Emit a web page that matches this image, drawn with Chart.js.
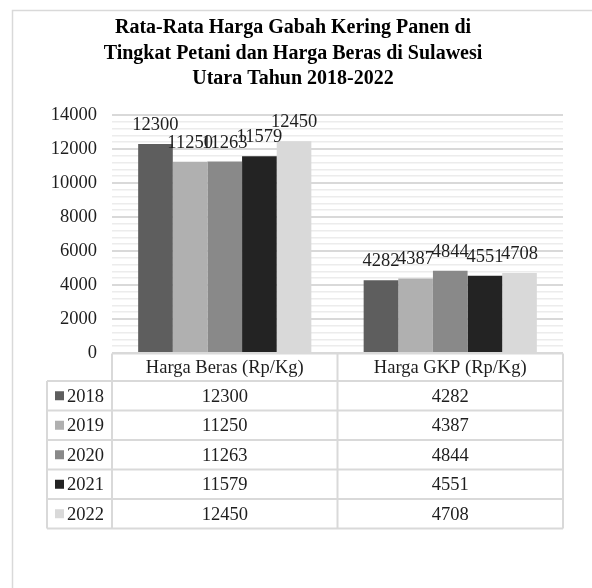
<!DOCTYPE html>
<html>
<head>
<meta charset="utf-8">
<script src="https://cdn.jsdelivr.net/npm/chart.js@4/dist/chart.umd.min.js"></script>
<style>
  html, body { margin: 0; padding: 0; background: #fff; overflow: hidden; }
  #wrap { width: 592px; height: 588px; }
</style>
</head>
<body>
<div id="wrap"><canvas id="c" width="592" height="588"></canvas></div>
<script>
// Categories, series and axis labels
const categories = ['Harga Beras (Rp/Kg)', 'Harga GKP (Rp/Kg)'];
const years = ['2018', '2019', '2020', '2021', '2022'];
const hargaBeras = [12300, 11250, 11263, 11579, 12450];
const hargaGKP = [4282, 4387, 4844, 4551, 4708];
const yTickLabels = [0, 2000, 4000, 6000, 8000, 10000, 12000, 14000];
const titleLines = ['Rata-Rata Harga Gabah Kering Panen di', 'Tingkat Petani dan Harga Beras di Sulawesi', 'Utara Tahun 2018-2022'];
const minorStep = 400;

const seriesColors = ['#5e5e5e', '#b0b0b0', '#898989', '#232323', '#d9d9d9'];
const serif = "'Liberation Serif', 'Times New Roman', serif";
const textColor = '#1e1e1e';
const lineColor = '#d9d9d9';
const bodySize = 18.5;

const datasets = years.map((y, i) => ({
  label: y,
  data: [hargaBeras[i], hargaGKP[i]],
  backgroundColor: seriesColors[i],
  borderWidth: 0,
  barPercentage: 1.0,
  categoryPercentage: 0.768
}));

// White background, outer frame and the centred title block
const framePlugin = {
  id: 'frame',
  beforeDraw(chart) {
    const ctx = chart.ctx;
    ctx.save();
    ctx.fillStyle = '#ffffff';
    ctx.fillRect(0, 0, chart.width, chart.height);
    ctx.strokeStyle = lineColor;
    ctx.lineWidth = 1.5;
    ctx.beginPath();
    ctx.moveTo(12.5, chart.height);
    ctx.lineTo(12.5, 10.5);
    ctx.lineTo(chart.width, 10.5);
    ctx.stroke();

    ctx.fillStyle = '#000000';
    ctx.font = 'bold 20px ' + serif;
    ctx.textAlign = 'center';
    ctx.textBaseline = 'middle';
    titleLines.forEach((t, i) => ctx.fillText(t, 293, 28 + i * 25.5));
    ctx.restore();
  }
};

// Value labels above each bar
const valueLabels = {
  id: 'valueLabels',
  afterDatasetsDraw(chart) {
    const ctx = chart.ctx;
    ctx.save();
    ctx.font = bodySize + 'px ' + serif;
    ctx.fillStyle = textColor;
    ctx.textAlign = 'center';
    ctx.textBaseline = 'alphabetic';
    chart.data.datasets.forEach((ds, di) => {
      chart.getDatasetMeta(di).data.forEach((bar, idx) => {
        ctx.fillText(String(ds.data[idx]), bar.x, bar.y - 14);
      });
    });
    ctx.restore();
  }
};

// Data table under the plot, aligned to the category scale
const dataTable = {
  id: 'dataTable',
  afterDraw(chart) {
    const ctx = chart.ctx;
    const xs = chart.scales.x;
    const area = chart.chartArea;
    const headerH = 27.5;
    const rowH = 29.5;
    const legendLeft = 47;
    const top = area.bottom + 0.5;
    const headerBottom = top + headerH;
    const n = categories.length;
    const half = (xs.getPixelForValue(1) - xs.getPixelForValue(0)) / 2;
    const colEdges = [];
    for (let i = 0; i < n; i++) colEdges.push(xs.getPixelForValue(i) - half);
    colEdges.push(xs.getPixelForValue(n - 1) + half);
    const bottom = headerBottom + rowH * years.length;

    ctx.save();
    ctx.strokeStyle = lineColor;
    ctx.lineWidth = 2;
    ctx.beginPath();
    ctx.moveTo(colEdges[0], top); ctx.lineTo(colEdges[n], top);
    for (let r = 0; r <= years.length; r++) {
      const y = headerBottom + r * rowH;
      ctx.moveTo(legendLeft, y); ctx.lineTo(colEdges[n], y);
    }
    ctx.moveTo(legendLeft, headerBottom); ctx.lineTo(legendLeft, bottom);
    colEdges.forEach(x => { ctx.moveTo(x, top); ctx.lineTo(x, bottom); });
    ctx.stroke();

    ctx.font = bodySize + 'px ' + serif;
    ctx.textBaseline = 'middle';
    years.forEach((y, r) => {
      const cy = headerBottom + r * rowH + rowH / 2;
      ctx.fillStyle = seriesColors[r];
      ctx.fillRect(55, cy - 4.5, 9, 9);
      ctx.fillStyle = textColor;
      ctx.textAlign = 'left';
      ctx.fillText(y, 67, cy + 1);
      ctx.textAlign = 'center';
      chart.data.datasets[r].data.forEach((v, c) => {
        ctx.fillText(String(v), xs.getPixelForValue(c), cy + 1);
      });
    });
    ctx.restore();
  }
};

new Chart(document.getElementById('c'), {
  type: 'bar',
  data: { labels: categories, datasets },
  plugins: [framePlugin, valueLabels, dataTable],
  options: {
    responsive: false,
    animation: false,
    events: [],
    layout: { padding: { left: 0, right: 29, top: 115, bottom: 0 } },
    plugins: {
      legend: { display: false },
      tooltip: { enabled: false },
      title: { display: false }
    },
    scales: {
      x: {
        grid: { display: false, drawTicks: false },
        border: { display: false },
        ticks: { font: { family: serif, size: bodySize }, color: textColor, padding: 4, maxRotation: 0 },
        afterFit(scale) { scale.height = 235; }
      },
      y: {
        min: 0,
        max: 14000,
        border: { display: false },
        afterBuildTicks(scale) {
          const ticks = [];
          for (let v = 0; v <= scale.max; v += minorStep) ticks.push({ value: v });
          scale.ticks = ticks;
        },
        afterFit(scale) { scale.width = 112; },
        ticks: {
          autoSkip: false,
          padding: 15,
          font: { family: serif, size: bodySize },
          color: textColor,
          callback: (v) => yTickLabels.includes(v) ? String(v) : ''
        },
        grid: {
          drawTicks: false,
          color: (ctx) => yTickLabels.includes(ctx.tick && ctx.tick.value) ? '#d9d9d9' : '#ececec',
          lineWidth: (ctx) => yTickLabels.includes(ctx.tick && ctx.tick.value) ? 2 : 1.5
        }
      }
    }
  }
});
</script>
</body>
</html>
